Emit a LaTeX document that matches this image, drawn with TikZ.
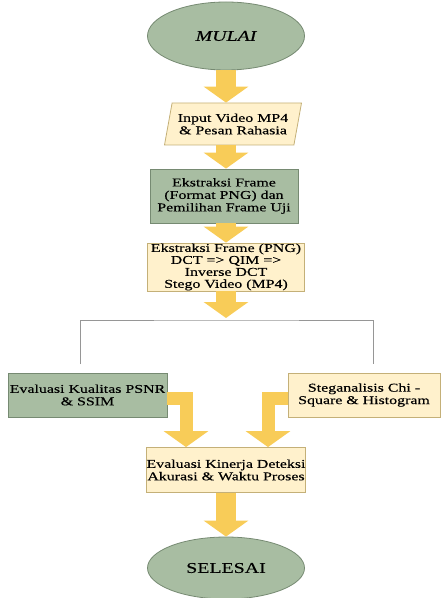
\documentclass[tikz,border=0pt]{standalone}
\usepackage{fontspec}
\setmainfont[FakeStretch=1.33,FakeBold=0.3]{Liberation Serif}
\usetikzlibrary{shapes.geometric,arrows.meta}
\definecolor{sage}{RGB}{168,189,162}
\definecolor{sageline}{RGB}{118,138,114}
\definecolor{cream}{RGB}{255,241,204}
\definecolor{creamline}{RGB}{196,176,120}
\definecolor{gold}{RGB}{248,204,88}
\definecolor{linegrey}{RGB}{150,150,150}
\begin{document}
\begin{tikzpicture}[x=1bp,y=-1bp,
  box/.style={draw, line width=0.8bp, align=center, inner sep=0pt,
    font=\fontsize{12}{12.5}\selectfont},
  greenbox/.style={box, fill=sage, draw=sageline},
  yellowbox/.style={box, fill=cream, draw=creamline},
  term/.style={ellipse, fill=sage, draw=sageline, line width=0.8bp,
    minimum width=157bp, minimum height=68bp, inner sep=0pt,
    font=\fontsize{15}{16}\selectfont},
  barrow/.style={gold, line width=20bp, line join=miter,
    -{Triangle[width=44bp,length=16bp]}},
  larrow/.style={gold, line width=13bp, line join=miter,
    -{Triangle[width=44bp,length=16bp]}},
  branch/.style={linegrey, line width=0.8bp}]
\useasboundingbox (0,0) rectangle (444,598);

\node[term] (mulai) at (226,36) {\itshape MULAI};
\node[yellowbox, trapezium, trapezium left angle=70, trapezium right angle=110,
  trapezium stretches body=true, minimum width=137bp, minimum height=42bp]
  (input) at (233,124) {Input Video MP4\\\& Pesan Rahasia};
\node[greenbox, minimum width=148bp, minimum height=54bp] (ekstr) at (224,196)
  {Ekstraksi Frame\\(Format PNG) dan\\Pemilihan Frame Uji};
\node[yellowbox, minimum width=157bp, minimum height=48bp,
  font=\fontsize{12}{12}\selectfont] (dct) at (226,267)
  {Ekstraksi Frame (PNG)\\DCT => QIM =>\\Inverse DCT\\Stego Video (MP4)};
\coordinate (split) at (226,320);
\coordinate (bl) at (80,364);
\coordinate (br) at (373,364);
\node[greenbox, minimum width=159bp, minimum height=44bp] (psnr) at (87.5,395)
  {Evaluasi Kualitas PSNR\\\& SSIM};
\node[yellowbox, minimum width=152bp, minimum height=44bp] (chi) at (364,395)
  {Steganalisis Chi -\\Square \& Histogram};
\node[yellowbox, minimum width=158bp, minimum height=45bp] (kinerja) at (226,470)
  {Evaluasi Kinerja Deteksi\\Akurasi \& Waktu Proses};
\node[term, minimum height=62bp] (selesai) at (226,568) {SELESAI};
\coordinate (lcol) at (186,0);
\coordinate (rcol) at (268,0);

\draw[barrow] (mulai.south) -- (mulai.south |- input.north);
\draw[barrow] (mulai.south |- input.south) -- (mulai.south |- ekstr.north);
\draw[barrow] (mulai.south |- ekstr.south) -- (mulai.south |- dct.north);
\draw[barrow] (mulai.south |- dct.south) -- ([yshift=2bp]split);
\draw[branch] (bl) |- (split) -| (br);
\draw[larrow] ([yshift=-3.5bp]psnr.east) -| (kinerja.north -| lcol);
\draw[larrow] ([yshift=-3.5bp]chi.west) -| (kinerja.north -| rcol);
\draw[barrow] (kinerja.south) -- (selesai.north);
\end{tikzpicture}
\end{document}
